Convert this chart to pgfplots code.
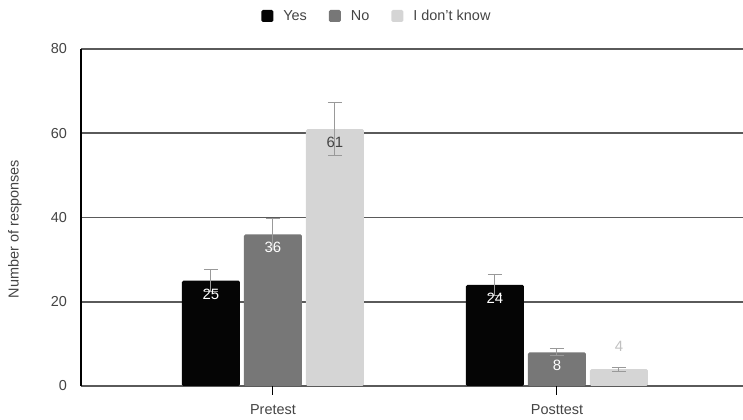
\documentclass[border=0pt]{standalone}
\usepackage{fontspec}
\setmainfont{Liberation Sans}
\usepackage{pgfplots}
\pgfplotsset{compat=1.18}

\definecolor{cyes}{HTML}{050505}
\definecolor{cno}{HTML}{777777}
\definecolor{cidk}{HTML}{D5D5D5}
\definecolor{txt}{HTML}{444444}
\definecolor{gridc}{HTML}{5A5A5A}
\definecolor{errc}{HTML}{999999}

% grid below the bars, tick marks above them
\pgfplotsset{
  layers/grid below ticks above/.define layer set={
    axis background, axis grid, main, axis ticks, axis lines,
    axis tick labels, axis descriptions, axis foreground}{},
}

\begin{document}
\begin{tikzpicture}
\begin{axis}[
  set layers=grid below ticks above,
  at={(0,0)}, anchor=south west,
  scale only axis, width=662bp, height=337bp,
  xmin=-0.676, xmax=1.655, ymin=0, ymax=80,
  axis x line*=bottom,
  x axis line style={draw=none},
  axis y line*=left,
  y axis line style={black, line width=1.3bp, -},
  /pgf/number format/assume math mode=true,
  ytick={0,20,40,60,80},
  ymajorgrids, grid style={gridc, line width=1.6bp},
  ytick style={draw=none},
  xtick={0,1}, xticklabels={Pretest,Posttest},
  xtick style={black, line width=1bp},
  major tick length=17bp, tick align=center,
  tick label style={font=\fontsize{14.5}{17}\selectfont, text=txt},
  yticklabel style={xshift=-2bp},
  xticklabel style={yshift=-7bp},
  ylabel={Number of responses},
  ylabel style={font=\fontsize{14.5}{17}\selectfont, text=txt,
    at={(axis description cs:-0.0997,0.466)}, anchor=center},
  legend columns=3,
  legend style={draw=none, fill=none, at={(axis description cs:0.447,1.098)}, anchor=center,
    font=\fontsize{14.5}{17}\selectfont, text=txt,
    /tikz/every even column/.append style={column sep=20bp}},
  legend image code/.code={\fill[#1] (0bp,-6bp) rectangle (12bp,6bp); \path (20bp,0bp);},
  error bars/y dir=both, error bars/y explicit,
  error bars/error bar style={errc, line width=1bp},
  error bars/error mark options={errc, line width=1bp, mark size=7bp, rotate=90},
  bar style/.style={ybar, bar width=58bp, bar shift=0bp, fill=#1, draw=none, rounded corners=1.5bp},
  value label/.style={nodes near coords,
    every node near coord/.append style={anchor=north, inner sep=0pt, yshift=-8bp,
      text=#1, font=\fontsize{15}{17}\selectfont}},
]
% groups sit at 0 (Pretest) and 1 (Posttest); bars are 62bp apart
\addplot[bar style=cyes, value label=white]
  coordinates {(-0.2183,25) +- (0,2.6) (0.7817,24) +- (0,2.4)};
\addlegendentry{Yes}
\addplot[bar style=cno, value label=white]
  coordinates {(0,36) +- (0,3.7) (1,8) +- (0,0.8)};
\addlegendentry{No}
\addplot[bar style=cidk, value label=txt]
  coordinates {(0.2183,61) +- (0,6.2)};
\addlegendentry{I don't know}
% short bar: its label sits above the bar
\addplot[bar style=cidk, forget plot,
  nodes near coords,
  every node near coord/.append style={anchor=south, inner sep=0pt, yshift=17bp,
    text=cidk!90!black, font=\fontsize{15}{17}\selectfont}]
  coordinates {(1.2183,4) +- (0,0.5)};
\end{axis}
\pgfresetboundingbox
\path[use as bounding box] (-81bp,-34bp) rectangle (662bp,386bp);
\end{tikzpicture}
\end{document}
